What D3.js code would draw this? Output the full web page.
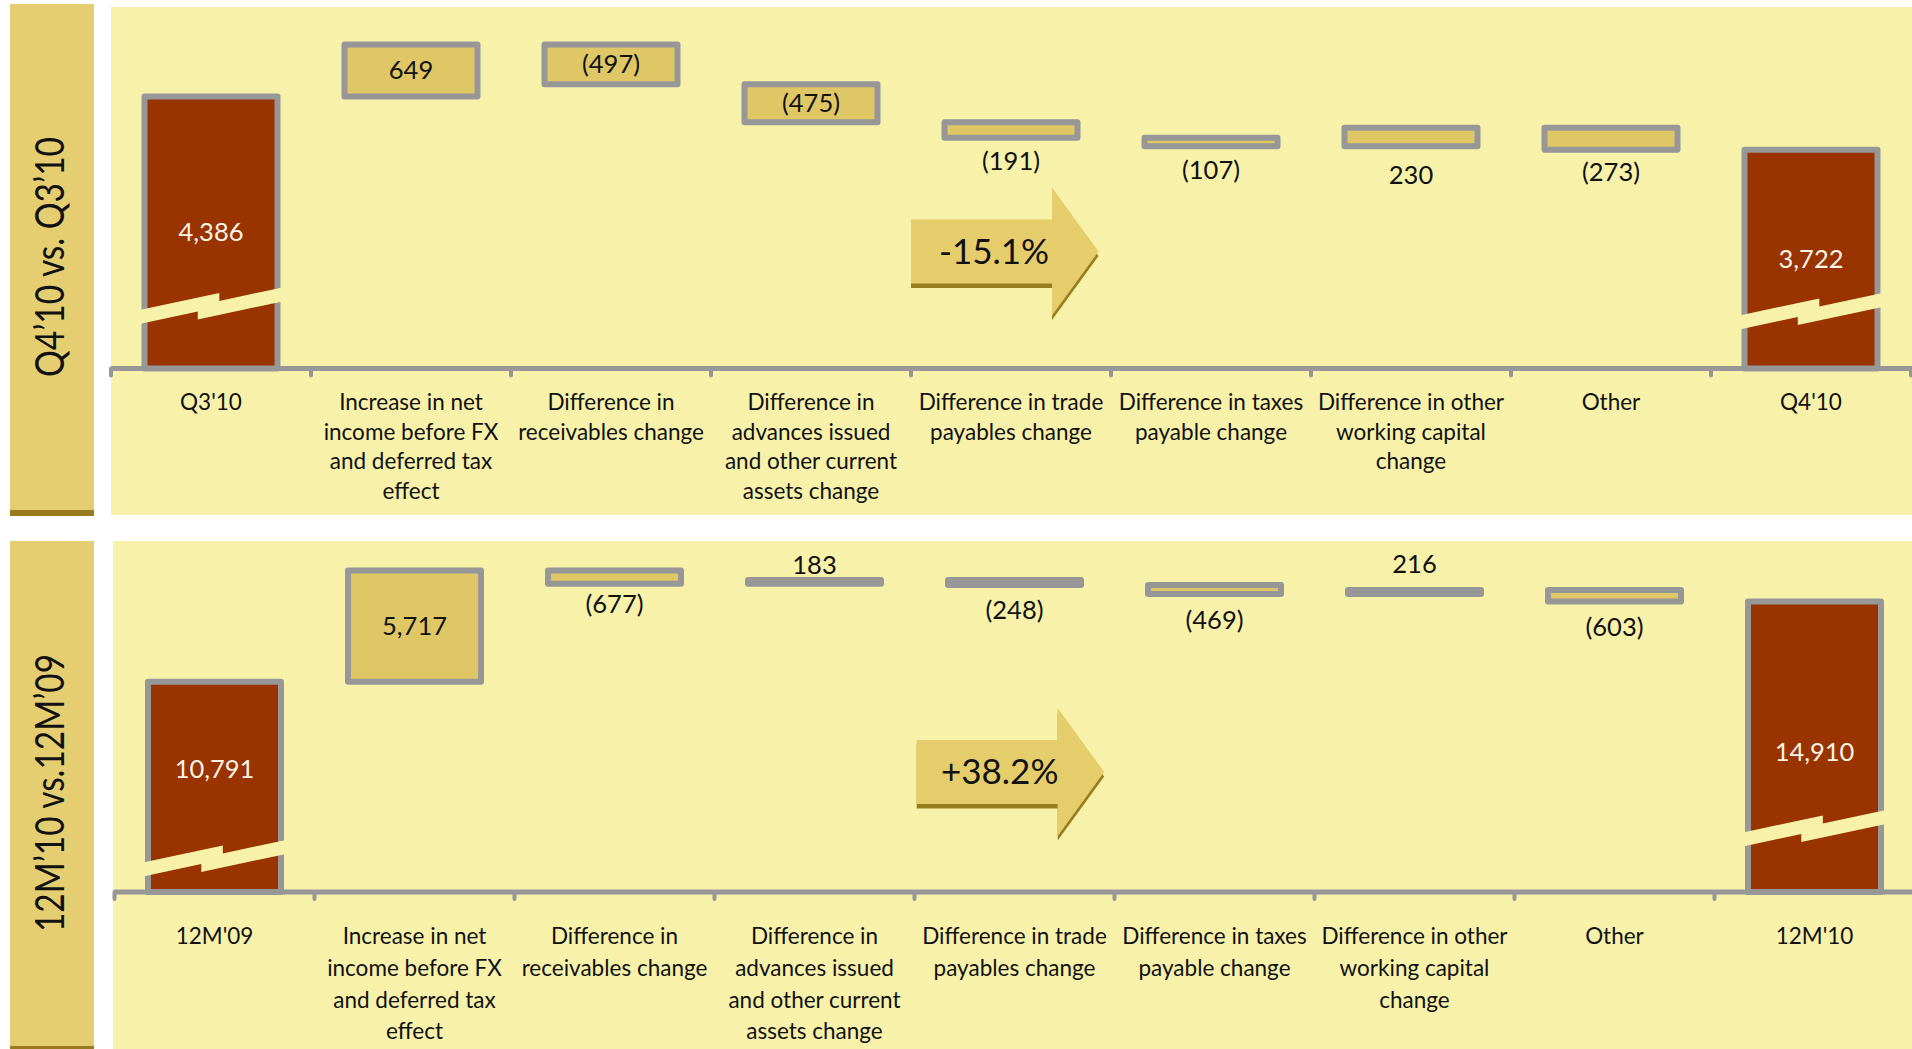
<!DOCTYPE html>
<html><head><meta charset="utf-8">
<script src="https://cdn.jsdelivr.net/npm/d3@7/dist/d3.min.js"></script>
<style>
html,body{margin:0;padding:0;background:#fff;}
svg{display:block;font-family:Lato,'Open Sans',sans-serif;}
</style>
</head><body>
<svg id="chart" width="1912" height="1049"></svg>
<script>
// ---------- data ----------
const categoriesTop = ["Q3'10", "Increase in net\nincome before FX\nand deferred tax\neffect", "Difference in\nreceivables change",
  "Difference in\nadvances issued\nand other current\nassets change", "Difference in trade\npayables change",
  "Difference in taxes\npayable change", "Difference in other\nworking capital\nchange", "Other", "Q4'10"];
const categoriesBottom = ["12M'09", "Increase in net\nincome before FX\nand deferred tax\neffect", "Difference in\nreceivables change",
  "Difference in\nadvances issued\nand other current\nassets change", "Difference in trade\npayables change",
  "Difference in taxes\npayable change", "Difference in other\nworking capital\nchange", "Other", "12M'10"];
const startTop = 4386, endTop = 3722;
const deltasTop = [649, -497, -475, -191, -107, 230, -273];
const startBottom = 10791, endBottom = 14910;
const deltasBottom = [5717, -677, 183, -248, -469, 216, -603];
const panelTitles = ["Q4\u201910 vs. Q3\u201910", "12M\u201910 vs.12M\u201909"];
const changeLabels = ["-15.1%", "+38.2%"];
const labelPlaceTop = ["mid", "in", "in", "in", "below", "below", "below", "below", "mid"];
const labelPlaceBottom = ["mid", "in", "below", "above", "below", "below", "above", "below", "mid"];

// ---------- style ----------
const C = {
  side: "#e5ce72", strip: "#977b1c", bg: "#f7f1aa", gold: "#dfc766", red: "#993300",
  gray: "#979797", arrow: "#e5cd6c", shadow: "#9a7e1e", text: "#111", white: "#f8f4e8"
};
const labelNudgeTop = [0, 0, 0, 0, -1, 0, 5, -2, 0];
const labelNudgeBottom = [-18, 0, -4, 4, 1, 2, -7, 1, 5];
const panels = [
  {cats: categoriesTop, start: startTop, deltas: deltasTop, end: endTop, title: panelTitles[0], change: changeLabels[0], place: labelPlaceTop, nudge: labelNudgeTop,
   sideY0: 4, sideY1: 516, stripH: 6, bgX: 111, bgY0: 7, bgY1: 515, x0: 111, axisY: 368.5, yDomain: [990, 5035], yTop: 44.5,
   catY0: 410, catLH: 29.5, breakLift: [59, 53.5], arrowDx: 0, arrowCy: 251.5, titleX: 63.5, titleCy: 257, titleLen: 240},
  {cats: categoriesBottom, start: startBottom, deltas: deltasBottom, end: endBottom, title: panelTitles[1], change: changeLabels[1], place: labelPlaceBottom, nudge: labelNudgeBottom,
   sideY0: 541, sideY1: 1049, stripH: 3, bgX: 113, bgY0: 541, bgY1: 1049, x0: 114.5, axisY: 892, yDomain: [0, 16508], yTop: 570.5,
   catY0: 944, catLH: 31.8, breakLift: [30, 60], arrowDx: 2.2, arrowCy: 772, titleX: 64, titleCy: 793, titleLen: 278}
];

const svg = d3.select("#chart");
const W = 1912;
const fmt = d3.format(",");
const labelText = (v, total) => total ? fmt(v) : (v < 0 ? "(" + fmt(-v) + ")" : fmt(v));

panels.forEach(p => {
  const g = svg.append("g");
  // sidebar
  g.append("rect").attr("x", 10).attr("y", p.sideY0).attr("width", 84).attr("height", p.sideY1 - p.sideY0).attr("fill", C.side);
  g.append("rect").attr("x", 10).attr("y", p.sideY1 - p.stripH).attr("width", 84).attr("height", p.stripH).attr("fill", C.strip);
  g.append("text").attr("transform", `translate(${p.titleX},${p.titleCy}) rotate(-90)`)
    .attr("text-anchor", "middle").attr("font-size", 40).attr("fill", C.text)
    .attr("textLength", p.titleLen).attr("lengthAdjust", "spacingAndGlyphs").text(p.title);
  // panel background
  g.append("rect").attr("x", p.bgX).attr("y", p.bgY0).attr("width", W - p.bgX).attr("height", p.bgY1 - p.bgY0).attr("fill", C.bg);

  const x = d3.scaleBand().domain(p.cats).range([p.x0, p.x0 + 1800]).padding(0);
  const y = d3.scaleLinear().domain(p.yDomain).range([p.axisY, p.yTop]);
  const bw = x.bandwidth();
  const barW = 133;

  // waterfall rows
  const rows = [];
  let cum = p.start;
  rows.push({cat: p.cats[0], total: true, lo: null, hi: p.start, value: p.start});
  p.deltas.forEach((d, i) => {
    const a = cum, b = cum + d;
    rows.push({cat: p.cats[i + 1], total: false, lo: Math.min(a, b), hi: Math.max(a, b), value: d});
    cum = b;
  });
  rows.push({cat: p.cats[p.cats.length - 1], total: true, lo: null, hi: p.end, value: p.end});

  rows.forEach(r => {
    const bx = x(r.cat) + (bw - barW) / 2;
    const yTop = y(r.hi);
    const yBot = r.total ? p.axisY : y(r.lo);
    g.append("rect").attr("x", bx).attr("y", yTop).attr("width", barW).attr("height", Math.max(0.5, yBot - yTop))
      .attr("fill", r.total ? C.red : C.gold).attr("stroke", C.gray).attr("stroke-width", 6).attr("stroke-linejoin", "round");
    r.bx = bx; r.yTop = yTop; r.yBot = yBot;
  });

  // break marks on total bars
  rows.filter(r => r.total).forEach((r, k) => {
    const x0 = r.bx - 3, Wb = barW + 6, x1 = x0 + Wb;
    const s = 0.213, t = 14, d = 8;
    const yU = p.axisY - p.breakLift[k];
    const xu = x0 + 0.56 * Wb, xl = x0 + 0.405 * Wb;
    const up = xx => yU - s * (xx - x0);
    const pts = [
      [x0 - 2, up(x0 - 2)], [xu, up(xu)], [xu, up(xu) + d], [x1 + 2, up(x1 + 2) + d],
      [x1 + 2, up(x1 + 2) + d + t], [xl, up(xl) + d + t], [xl, up(xl) + t], [x0 - 2, up(x0 - 2) + t]
    ];
    g.append("polygon").attr("points", pts.map(q => q.join(",")).join(" ")).attr("fill", C.bg);
  });

  // axis
  g.append("line").attr("x1", p.x0).attr("x2", W).attr("y1", p.axisY).attr("y2", p.axisY)
    .attr("stroke", C.gray).attr("stroke-width", 5);
  const ticks = p.cats.map(c => x(c)).concat([x(p.cats[p.cats.length - 1]) + bw]);
  g.selectAll(null).data(ticks).enter().append("line")
    .attr("x1", d => d).attr("x2", d => d).attr("y1", p.axisY).attr("y2", p.axisY + 7)
    .attr("stroke", C.gray).attr("stroke-width", 4).attr("stroke-linecap", "round");

  // category labels
  p.cats.forEach(c => {
    const tx = g.append("text").attr("text-anchor", "middle").attr("font-size", 22.5).attr("fill", C.text);
    c.split("\n").forEach((line, j) => {
      tx.append("tspan").attr("x", x(c) + bw / 2).attr("y", p.catY0 + j * p.catLH).text(line);
    });
  });

  // value labels
  rows.forEach((r, i) => {
    const cx = x(r.cat) + bw / 2;
    const pl = p.place[i];
    let ty, fill = C.text;
    if (pl === "mid") { ty = (r.yTop + r.yBot) / 2 + 9; fill = C.white; }
    else if (pl === "in") ty = (r.yTop + r.yBot) / 2 + 9;
    else if (pl === "below") ty = r.yBot + 3 + 30;
    else ty = r.yTop - 3 - 7;
    g.append("text").attr("x", cx).attr("y", ty + p.nudge[i]).attr("text-anchor", "middle").attr("font-size", 25.5)
      .attr("fill", fill).text(labelText(r.value, r.total));
  });

  // change arrow
  const ax = x(p.cats[4]) + p.arrowDx, cy = p.arrowCy;
  const arrowPts = [[ax, cy - 32], [ax + 141, cy - 32], [ax + 141, cy - 64], [ax + 187.5, cy],
                    [ax + 141, cy + 64], [ax + 141, cy + 32], [ax, cy + 32]];
  g.append("polygon").attr("points", arrowPts.map(q => [q[0], q[1] + 4.6].join(",")).join(" ")).attr("fill", C.shadow);
  g.append("polygon").attr("points", arrowPts.map(q => q.join(",")).join(" ")).attr("fill", C.arrow);
  g.append("text").attr("x", ax + 83).attr("y", cy + 12).attr("text-anchor", "middle").attr("font-size", 35)
    .attr("fill", C.text).text(p.change);
});
</script>
</body></html>
